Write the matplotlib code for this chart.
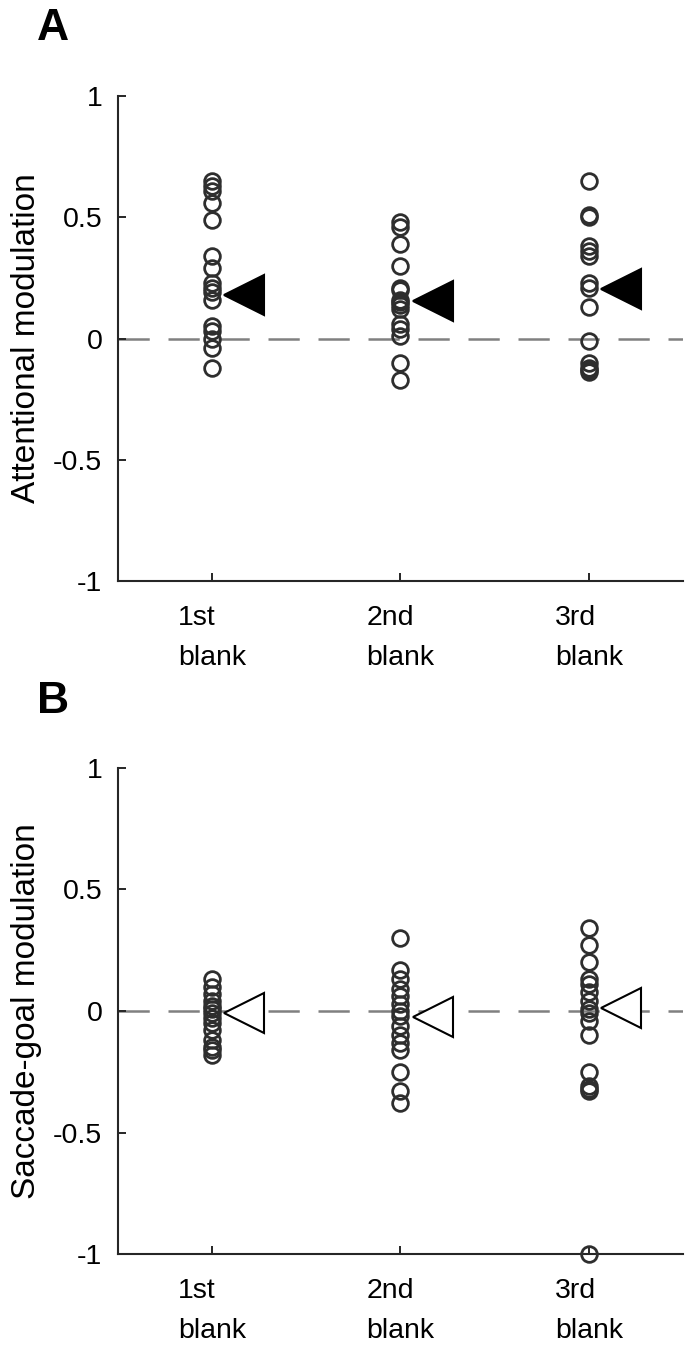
import matplotlib
matplotlib.use("Agg")
import matplotlib.pyplot as plt

plt.rcParams['font.family'] = ['Liberation Sans', 'DejaVu Sans']
plt.rcParams['lines.scale_dashes'] = False

conditions = ['1st\nblank', '2nd\nblank', '3rd\nblank']

# attentional modulation per subject (panel A)
attn_1st = [0.65, 0.63, 0.61, 0.56, 0.49, 0.34, 0.29, 0.23, 0.21, 0.19, 0.16, 0.05, 0.03, 0.00, -0.04, -0.12]
attn_2nd = [0.48, 0.46, 0.39, 0.30, 0.21, 0.20, 0.16, 0.15, 0.14, 0.12, 0.06, 0.04, 0.01, -0.10, -0.17]
attn_3rd = [0.65, 0.51, 0.50, 0.38, 0.36, 0.34, 0.23, 0.21, 0.13, -0.01, -0.10, -0.12, -0.13, -0.14]
attn_mean = [0.18, 0.155, 0.205]

# saccade-goal modulation per subject (panel B)
sacc_1st = [0.13, 0.10, 0.07, 0.04, 0.02, 0.01, -0.01, -0.03, -0.05, -0.08, -0.12, -0.15, -0.16, -0.18]
sacc_2nd = [0.30, 0.17, 0.13, 0.09, 0.06, 0.03, 0.00, -0.02, -0.06, -0.10, -0.13, -0.16, -0.25, -0.33, -0.38]
sacc_3rd = [0.34, 0.27, 0.20, 0.13, 0.11, 0.08, 0.04, 0.01, -0.01, -0.04, -0.10, -0.25, -0.31, -0.32, -0.33, -1.00]
sacc_mean = [-0.01, -0.025, 0.013]

yticks = [-1, -0.5, 0, 0.5, 1]
yticklabels = ['-1', '-0.5', '0', '0.5', '1']

fig = plt.figure(figsize=(6.85, 13.49), dpi=100)
ax_a = fig.add_axes([0.1719, 0.5693, 0.8255, 0.3595])
ax_b = fig.add_axes([0.1719, 0.0704, 0.8255, 0.3603])

panels = [
    (ax_a, [attn_1st, attn_2nd, attn_3rd], attn_mean, 'Attentional modulation', 'black'),
    (ax_b, [sacc_1st, sacc_2nd, sacc_3rd], sacc_mean, 'Saccade-goal modulation', 'white'),
]

for ax, groups, means, ylab, tri_face in panels:
    ax.axhline(0, color='#808080', lw=1.8, dashes=(22.5, 13.5), zorder=1)
    for i, vals in enumerate(groups):
        ax.plot([i + 1] * len(vals), vals, 'o', ms=11.3, mfc='none', mec='#2e2e2e',
                mew=2.0, zorder=3, clip_on=False)
    ax.plot([i + 1.17 for i in range(3)], means, '<', ms=28.5, mfc=tri_face,
            mec='black', mew=1.5, zorder=4)

    ax.set_xlim(0.5, 3.5)
    ax.set_ylim(-1, 1)
    ax.set_yticks(yticks)
    ax.set_yticklabels(yticklabels)
    ax.set_xticks([1, 2, 3])
    ax.set_xticklabels(conditions, linespacing=1.7, multialignment='left')
    ax.tick_params(direction='in', length=6, width=1.4, labelsize=20.5, color='#262626')
    ax.tick_params(axis='y', pad=11)
    ax.tick_params(axis='x', pad=17)
    for s in ['top', 'right']:
        ax.spines[s].set_visible(False)
    for s in ['left', 'bottom']:
        ax.spines[s].set_linewidth(1.5)
        ax.spines[s].set_color('#262626')
    ax.set_ylabel(ylab, fontsize=24, labelpad=8)

fig.text(37 / 685, 1 - 40 / 1349, 'A', fontsize=32, fontweight='bold', va='baseline')
fig.text(37 / 685, 1 - 713 / 1349, 'B', fontsize=32, fontweight='bold', va='baseline')

fig.savefig('out.png', dpi=100)
